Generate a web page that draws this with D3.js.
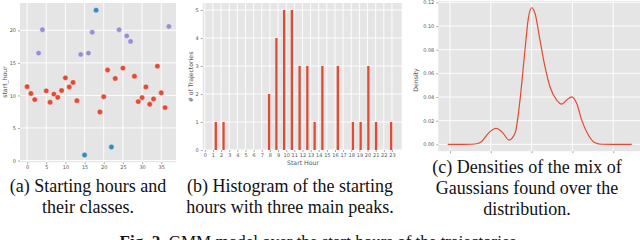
<!DOCTYPE html>
<html>
<head>
<meta charset="utf-8">
<script src="https://cdn.jsdelivr.net/npm/d3@7/dist/d3.min.js"></script>
<style>
  body { margin: 0; background: #fff; }
  svg { display: block; }
  .tick text { font-family: "DejaVu Sans", sans-serif; fill: #555; }
  .cap { font-family: "Liberation Serif", "DejaVu Serif", serif; fill: #111; }
</style>
</head>
<body>
<div id="chart"></div>
<script>
// (a) start hour of every trajectory, with the GMM class it falls in
var startHours = [11.35, 10.3, 9.36, 16.5, 20.1, 10.7, 8.95, 10.2, 9.7, 10.75,
  12.7, 11.3, 12.0, 9.2, 16.3, 0.85, 16.5, 19.7, 23.1, 7.46,
  9.8, 13.9, 2.08, 12.6, 20.1, 14.2, 19.15, 18.3, 12.95, 9.05,
  9.66, 11.3, 8.64, 9.46, 14.5, 10.4, 8.13, 20.6];
var classes = [0, 0, 0, 1, 1, 0, 0, 0, 0, 0,
  0, 0, 0, 0, 1, 2, 1, 1, 2, 0,
  0, 0, 2, 0, 1, 0, 1, 1, 0, 0,
  0, 0, 0, 0, 0, 0, 0, 1];
var classColors = ["#E24A33", "#988ED5", "#348ABD"];

// (b) histogram bins (bin centre in hours) and counts
var binCenters = [1.35, 2.3, 7.9, 8.8, 9.75, 10.7, 11.65, 12.6, 13.5, 14.45,
  16.35, 18.2, 19.15, 20.1, 21.05, 22.9];
var binCounts = [1, 1, 2, 4, 5, 5, 3, 3, 1, 3, 3, 1, 1, 3, 1, 1];
var hourTicks = d3.range(0, 24);

// (c) density of the gaussian mixture
var densX = [-0.28, 1.5, 2.7, 3.27, 3.88, 4.69, 5.2, 5.64, 6.1, 6.53, 7.23, 7.97,
  8.58, 9.19, 9.6, 10.01, 10.42, 11.03, 11.64, 12.25, 13.08, 13.69,
  14.3, 14.91, 15.53, 16.14, 16.95, 17.77, 18.59, 20.0, 22.27];
var densY = [0, 0, 0.0001, 0.0005, 0.0025, 0.0093, 0.0123, 0.0135, 0.0122, 0.0093, 0.0036, 0.0093,
  0.0374, 0.0797, 0.1065, 0.1154, 0.1107, 0.0881, 0.0656, 0.0487, 0.0374, 0.034,
  0.0374, 0.0402, 0.0346, 0.0205, 0.0079, 0.0014, 0.0001, 0, 0];

var captions = [
  ["(a) Starting hours and", "their classes."],
  ["(b) Histogram of the starting", "hours with three main peaks."],
  ["(c) Densities of the mix of", "Gaussians found over the", "distribution."]
];

var W = 640, H = 240;
var svg = d3.select("#chart").append("svg")
    .attr("width", W)
    .attr("height", H);

svg.append("rect").attr("width", W).attr("height", H).attr("fill", "#fff");

// ggplot-like panel: grey background, white grid, no spines
function panel(xScale, yScale, xTickVals, yTickVals, xFmt, yFmt) {
  var g = svg.append("g");
  var xr = xScale.range(), yr = yScale.range();
  g.append("rect")
      .attr("x", xr[0]).attr("y", yr[1])
      .attr("width", xr[1] - xr[0]).attr("height", yr[0] - yr[1])
      .attr("fill", "#E5E5E5");
  g.selectAll(".vgrid").data(xTickVals).enter().append("line")
      .attr("x1", function (d) { return xScale(d); })
      .attr("x2", function (d) { return xScale(d); })
      .attr("y1", yr[1]).attr("y2", yr[0])
      .attr("stroke", "#fff").attr("stroke-width", 0.9);
  g.selectAll(".hgrid").data(yTickVals).enter().append("line")
      .attr("x1", xr[0]).attr("x2", xr[1])
      .attr("y1", function (d) { return yScale(d); })
      .attr("y2", function (d) { return yScale(d); })
      .attr("stroke", "#fff").attr("stroke-width", 0.9);

  var xa = g.append("g")
      .attr("transform", "translate(0," + yr[0] + ")")
      .call(d3.axisBottom(xScale).tickValues(xTickVals).tickFormat(xFmt).tickSize(2).tickPadding(1.5));
  var ya = g.append("g")
      .attr("transform", "translate(" + xr[0] + ",0)")
      .call(d3.axisLeft(yScale).tickValues(yTickVals).tickFormat(yFmt).tickSize(2).tickPadding(2));
  [xa, ya].forEach(function (a) {
    a.select(".domain").remove();
    a.selectAll(".tick line").attr("stroke", "#555").attr("stroke-width", 0.5);
    a.selectAll(".tick text").style("font-size", "5px");
  });
  return g;
}

function axisLabel(x, y, text, rotate) {
  svg.append("text")
      .attr("transform", "translate(" + x + "," + y + ")" + (rotate ? " rotate(-90)" : ""))
      .attr("text-anchor", "middle")
      .style("font-family", "'DejaVu Sans', sans-serif")
      .style("font-size", "6.2px")
      .style("fill", "#555")
      .text(text);
}

// ---- (a) scatter
var xA = d3.scaleLinear().domain([-1.85, 38.85]).range([20, 176]);
var yA = d3.scaleLinear().domain([-0.26, 24.2]).range([162.2, 3]);
var gA = panel(xA, yA, d3.range(0, 40, 5), d3.range(0, 25, 5), d3.format("d"), d3.format("d"));
gA.selectAll(".pt").data(startHours).enter().append("circle")
    .attr("cx", function (d, i) { return xA(i); })
    .attr("cy", function (d) { return yA(d); })
    .attr("r", 2.7)
    .attr("fill", function (d, i) { return classColors[classes[i]]; })
    .attr("stroke", "#fff")
    .attr("stroke-width", 0.4);
axisLabel(7, 82, "start_hour", true);

// ---- (b) histogram
var xB = d3.scaleLinear().domain([-0.26, 24.2]).range([202.7, 401.7]);
var yB = d3.scaleLinear().domain([0, 5.25]).range([150, 3]);
var gB = panel(xB, yB, hourTicks, d3.range(0, 6), d3.format("d"), d3.format("d"));
var barW = 2.3;
gB.selectAll(".bar").data(binCenters).enter().append("rect")
    .attr("x", function (d) { return xB(d) - barW / 2; })
    .attr("y", function (d, i) { return yB(binCounts[i]); })
    .attr("width", barW)
    .attr("height", function (d, i) { return yB(0) - yB(binCounts[i]); })
    .attr("fill", "#E24A33");
axisLabel(303, 165, "Start Hour", false);
axisLabel(193, 77, "# of Trajectories", true);

// ---- (c) density
var xC = d3.scaleLinear().domain([-1.43, 23.43]).range([438.3, 641.2]);
var yC = d3.scaleLinear().domain([-0.00577, 0.1212]).range([151.2, 0.9]);
var gC = panel(xC, yC, d3.range(0, 25, 5), d3.range(0, 0.13, 0.02), function () { return ""; }, d3.format(".2f"));
var line = d3.line()
    .x(function (d) { return xC(d[0]); })
    .y(function (d) { return yC(d[1]); })
    .curve(d3.curveMonotoneX);
gC.append("path")
    .datum(d3.zip(densX, densY))
    .attr("d", line)
    .attr("fill", "none")
    .attr("stroke", "#E24A33")
    .attr("stroke-width", 1.2);
axisLabel(418, 80, "Density", true);

// ---- captions
var capCenters = [88, 290, 527];
var capBase = [192, 192, 173];
captions.forEach(function (lines, k) {
  lines.forEach(function (t, j) {
    svg.append("text")
        .attr("class", "cap")
        .attr("x", capCenters[k])
        .attr("y", capBase[k] + j * 21)
        .attr("text-anchor", "middle")
        .style("font-size", "18px")
        .text(t);
  });
});

var fig = svg.append("text")
    .attr("class", "cap")
    .attr("x", 320)
    .attr("y", 247)
    .attr("text-anchor", "middle")
    .style("font-size", "17px");
fig.append("tspan").style("font-weight", "bold").text("Fig. 2.");
fig.append("tspan").text(" GMM model over the start hours of the trajectories.");
</script>
</body>
</html>
